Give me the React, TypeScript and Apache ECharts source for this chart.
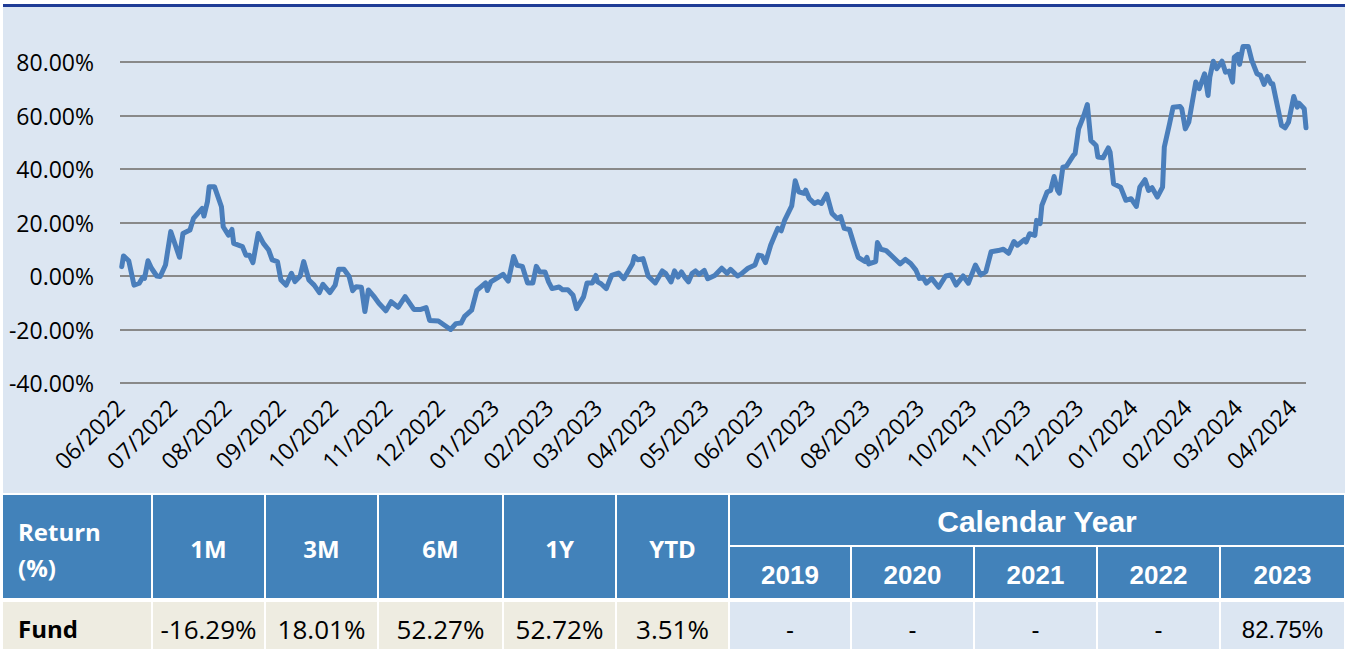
import React, { useEffect, useRef } from 'react';
import * as echarts from 'echarts';

// ---------- DATA ----------
// x values are days counted from 1 June 2022
const monthTickLabels = [
  '06/2022', '07/2022', '08/2022', '09/2022', '10/2022', '11/2022', '12/2022',
  '01/2023', '02/2023', '03/2023', '04/2023', '05/2023', '06/2023', '07/2023',
  '08/2023', '09/2023', '10/2023', '11/2023', '12/2023', '01/2024', '02/2024',
  '03/2024', '04/2024',
];
// days from 1 June 2022 to the first day of each labelled month
const monthTickOffsets = [
  0, 30, 61, 92, 122, 153, 183, 214, 245, 273, 304, 334, 365, 395, 426, 457,
  487, 518, 548, 579, 610, 639, 670,
];

// sample dates (days from 1 June 2022) and cumulative fund return (%)
const dayOffsets = [
  1, 2, 5, 8, 11, 13, 14, 16, 18, 21, 23, 26, 29, 31, 34, 36, 40, 42, 47, 48, 50, 51, 54, 58, 59,
  62, 64, 65, 70, 72, 74, 76, 79, 82, 85, 87, 90, 92, 95, 98, 100, 103, 105, 108, 111, 114, 116,
  120, 123, 125, 128, 131, 133, 135, 138, 140, 142, 145, 148, 152, 155, 159, 163, 168, 172,
  175, 177, 182, 189, 192, 195, 197, 201, 204, 209, 210, 212, 219, 222, 225, 227, 230, 233, 236,
  238, 240, 243, 245, 247, 251, 253, 256, 259, 261, 265, 267, 270, 272, 273, 275, 278, 281, 285,
  288, 293, 294, 296, 299, 302, 306, 310, 312, 315, 317, 319, 321, 323, 325, 327, 329, 331, 334,
  336, 340,
  344, 347, 349, 353, 355, 359, 363, 365, 367, 369, 372, 376, 378, 380, 384, 386, 388, 391, 392,
  394, 397, 399, 401, 404, 407, 410, 412, 414, 417, 420, 422, 426, 427, 428, 432, 433, 435, 438,
  442, 446, 449, 452, 455, 457, 459, 461, 464, 468, 472, 475, 478, 482, 485, 489, 492, 495, 498,
  502, 505, 508, 511, 513,
  517, 518, 520, 523, 524, 526, 527, 530, 532, 534, 536, 537, 539, 541, 545, 546, 548, 551, 553,
  555, 558, 559, 562, 565, 566, 568, 572, 575, 578, 581, 583, 586, 588, 590, 593, 596, 597, 600,
  602, 606, 607, 609, 611, 615, 617, 620, 622, 623, 625, 627, 630, 632, 634, 636, 637, 639, 640,
  642, 645, 647, 650, 652, 654, 656, 658, 659, 661, 664, 666, 668, 671, 673, 674, 677, 678,
];
const fundReturns = [
  3.5, 7.5, 5.7, -3.4, -2.7, -0.5, -0.9, 5.7, 2.9, 0, -0.2, 4.1, 16.6, 12.8, 7, 15.9, 17.2, 21.5, 25.3, 22.4, 27.8, 33.4, 33.4, 25.9, 18.4,
  15.3, 17.4, 12.2, 11, 7.8, 7.8, 5, 15.9, 12.2, 9.7, 6, 5.4, -1.5, -3.4, 1, -2.1, 0, 5.4, -1.5, -3.4, -6.2, -3.1,
  -6.2, -3.4, 2.5, 2.5, -0.2, -5.5, -4, -4.2, -13.3, -5.2, -7.5, -10.2, -13, -9.6, -11.7, -7.7, -12.5, -12.5,
  -11.8, -16.6, -16.8, -20, -17.8, -17.6, -15.1, -12.8, -5.4, -2.6, -5.4, -2.2, 0.6, -1.9, 7.3, 4, 3.6, -2.6, -2.6,
  3.6, 1.5, 1.5, -2.2, -4.7, -4.1, -5.1, -5.1, -7.2, -12.2, -7.8, -2.6, -2.6, 0.2, -2.2, -2.9, -4.7, 0.2, 1.1,
  -1, 4.6, 7.3, 6.1, 6.5, -0.1, -2.6, 1.9, 0.9, -2.2, 1.9, -0.4, 1.5, -0.6, -2.2, 0.9, 1.9, 0.6, 2.1,
  -1, 0.2,
  2.9, 1, 2.5, 0, 0.7, 2.9, 4.1, 7.8, 7.5, 5, 11.6, 17.8, 16.9, 20.9, 26.2, 35.6, 31.5, 30.9, 32.1,
  29, 27.1, 27.8, 27.1, 30.6, 23.4, 21.5, 22.2, 17.8, 17.4, 11, 7, 5.4, 7, 4.5, 5.4, 12.5, 10, 9.5,
  7, 4.5, 6.2, 4.7, 2.2, -0.9, -0.5, -2.7, -0.9, -4.2, 0, 0.4, -3.4, 0, -2.7, 4.1, 0.4, 1.6, 9.1,
  9.5, 10, 8.5, 12.9, 11.5,
  13.6, 12.7, 15.8, 15.2, 20.8, 19.6, 26.4, 31.4, 32, 37.2, 32, 31, 40.7, 41, 45.1, 45.7, 55, 60, 64.1,
  50.7, 48.8, 44.5, 44.2, 47.9, 46.3, 34.5, 33.2, 28.3, 28.9, 26, 33.2, 36, 32, 33, 29.5, 33.2, 48.2, 56.9,
  63.1, 63.4, 62.5, 55, 57.5, 72.5, 70, 75.6, 67.5, 74.3, 80.3, 77.5, 80.3, 76.2, 76.6, 72.5, 81.8, 82.8, 79.1,
  85.8, 85.8, 80.6, 75.6, 75, 71.6, 74.6, 71.9, 71.9, 65.6, 56.3, 55.4, 57.5, 67.1, 63.1, 64.6, 62.5, 55.4,
];

const yMin = -40;
const yMax = 80;
const yStep = 20;

const rowHeaderTitle = ['Return', '(%)'];
const rowLabel = 'Fund';
const periodHeaders = ['1M', '3M', '6M', '1Y', 'YTD'];
const periodReturns = ['-16.29%', '18.01%', '52.27%', '52.72%', '3.51%'];
const calendarTitle = 'Calendar Year';
const calendarYears = ['2019', '2020', '2021', '2022', '2023'];
const calendarReturns = ['-', '-', '-', '-', '82.75%'];

// ---------- LAYOUT / STYLE ----------
const W = 1348;
const H = 649;
const HEADER_BLUE = '#4282ba';
const BEIGE = '#eeece1';
const PALE_BLUE = '#dce6f2';
const COLS: [number, number][] = [
  [3, 151], [153, 264], [266, 377], [379, 502], [504, 615], [617, 728],
  [730, 850], [852, 973], [975, 1096], [1098, 1219], [1221, 1344],
];
const HEAD_TOP = 495;
const HEAD_BOTTOM = 598;
const CAL_TITLE_BOTTOM = 545;
const YEARS_TOP = 547;
const ROW_TOP = 602;
const ROW_BOTTOM = 649;

const SANS = '"Open Sans", "Noto Sans", sans-serif';
const ARIAL = '"Liberation Sans", Arial, sans-serif';

function rect(x0: number, x1: number, y0: number, y1: number, fill: string) {
  return {
    type: 'rect',
    silent: true,
    shape: { x: x0, y: y0, width: x1 - x0, height: y1 - y0 },
    style: { fill },
  };
}
function text(str: string, x: number, y: number, font: string, fill: string, align = 'center') {
  return {
    type: 'text',
    silent: true,
    x,
    y,
    style: { text: str, font, fill, textAlign: align, textVerticalAlign: 'middle' },
  };
}

function buildTable() {
  const els: any[] = [];
  const cx = (i: number) => (COLS[i][0] + COLS[i][1]) / 2;
  for (let i = 0; i < 6; i++) els.push(rect(COLS[i][0], COLS[i][1], HEAD_TOP, HEAD_BOTTOM, HEADER_BLUE));
  els.push(rect(COLS[6][0], COLS[10][1], HEAD_TOP, CAL_TITLE_BOTTOM, HEADER_BLUE));
  for (let i = 6; i < 11; i++) els.push(rect(COLS[i][0], COLS[i][1], YEARS_TOP, HEAD_BOTTOM, HEADER_BLUE));
  for (let i = 0; i < 11; i++) els.push(rect(COLS[i][0], COLS[i][1], ROW_TOP, ROW_BOTTOM, i < 6 ? BEIGE : PALE_BLUE));

  els.push(text(rowHeaderTitle[0], 18, 531, `bold 24px ${SANS}`, '#ffffff', 'left'));
  els.push(text(rowHeaderTitle[1], 18, 567, `bold 24px ${SANS}`, '#ffffff', 'left'));
  periodHeaders.forEach((h, k) => els.push(text(h, cx(k + 1), 548, `bold 24px ${SANS}`, '#ffffff')));
  els.push(text(calendarTitle, (COLS[6][0] + COLS[10][1]) / 2, 521, `bold 30px ${ARIAL}`, '#ffffff'));
  calendarYears.forEach((h, k) => els.push(text(h, cx(k + 6), 575, `bold 26px ${ARIAL}`, '#ffffff')));

  els.push(text(rowLabel, 18, 628, `bold 24px ${SANS}`, '#000000', 'left'));
  periodReturns.forEach((v, k) => els.push(text(v, cx(k + 1), 629, `26px ${SANS}`, '#000000')));
  calendarReturns.forEach((v, k) => els.push(text(v, cx(k + 6), 629, `24px ${ARIAL}`, '#000000')));
  return els;
}

export default function App() {
  const ref = useRef<HTMLDivElement>(null);

  useEffect(() => {
    document.body.style.margin = '0';
    if (!ref.current) return;
    const chart = echarts.init(ref.current, undefined, { renderer: 'svg' });

    const seriesData = dayOffsets.map((d, i) => [d, fundReturns[i]]);
    const lastDay = dayOffsets[dayOffsets.length - 1];

    chart.setOption({
      animation: false,
      backgroundColor: 'transparent',
      grid: { left: 120, right: 42, top: 62, bottom: 266, containLabel: false, outerBoundsMode: 'none' },
      xAxis: {
        type: 'value',
        min: 0,
        max: lastDay,
        axisLine: { show: false },
        axisTick: { show: false },
        splitLine: { show: false },
        axisLabel: {
          customValues: monthTickOffsets,
          rotate: 45,
          margin: 20,
          hideOverlap: false,
          color: '#000000',
          fontSize: 23,
          fontFamily: SANS,
          formatter: (v: number) => {
            const idx = monthTickOffsets.indexOf(Math.round(v));
            return idx >= 0 ? monthTickLabels[idx] : '';
          },
        },
      },
      yAxis: {
        type: 'value',
        min: yMin,
        max: yMax,
        interval: yStep,
        axisLine: { show: false },
        axisTick: { show: false },
        axisLabel: {
          margin: 26,
          color: '#000000',
          fontSize: 23,
          fontFamily: SANS,
          formatter: (v: number) => `${v.toFixed(2)}%`,
        },
        splitLine: { lineStyle: { color: '#898989', width: 2 } },
      },
      series: [
        {
          type: 'line',
          data: seriesData,
          showSymbol: false,
          symbol: 'none',
          clip: false,
          lineStyle: { color: '#4a7ebb', width: 5, join: 'round', cap: 'round' },
          z: 5,
        },
      ],
      graphic: { elements: buildTable() },
    });

    return () => chart.dispose();
  }, []);

  return (
    <div style={{ position: 'relative', width: W, height: H, background: '#ffffff', overflow: 'hidden' }}>
      <div
        style={{
          position: 'absolute',
          left: 3,
          top: 4,
          width: 1342,
          height: 489,
          background: PALE_BLUE,
          borderTop: '3px solid #1f3c96',
          boxSizing: 'border-box',
        }}
      />
      <div ref={ref} style={{ position: 'absolute', left: 0, top: 0, width: W, height: H }} />
    </div>
  );
}
